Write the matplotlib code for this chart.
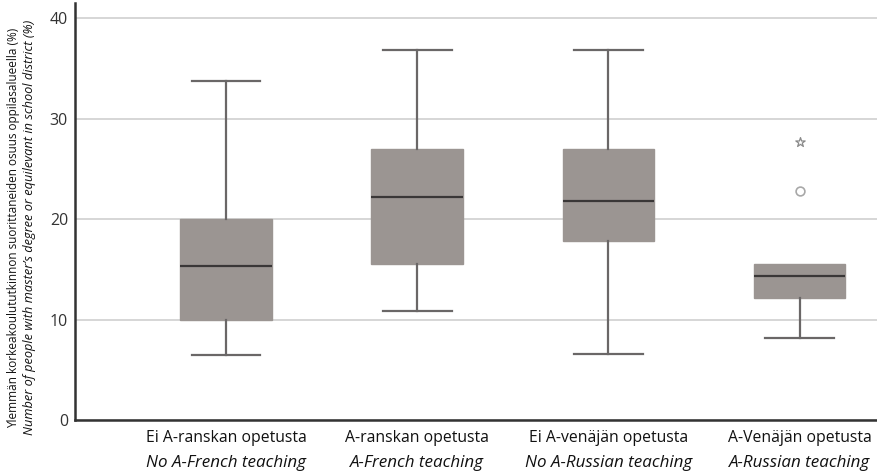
import matplotlib
matplotlib.use("Agg")
import matplotlib.pyplot as plt
from matplotlib.transforms import blended_transform_factory

categories_fi = ["Ei A-ranskan opetusta", "A-ranskan opetusta", "Ei A-venäjän opetusta", "A-Venäjän opetusta"]
categories_en = ["No A-French teaching", "A-French teaching", "No A-Russian teaching", "A-Russian teaching"]
whislo = [6.5, 10.8, 6.6, 8.2]
q1 = [10.0, 15.5, 17.8, 12.1]
med = [15.3, 22.2, 21.8, 14.3]
q3 = [20.0, 27.0, 27.0, 15.5]
whishi = [33.7, 36.8, 36.8, 15.5]
outlier_circle = [None, None, None, 22.8]
outlier_star = [None, None, None, 27.7]
yticks = [0, 10, 20, 30, 40]

plt.rcParams['font.family'] = ['Open Sans', 'DejaVu Sans']

fig = plt.figure(figsize=(8.78, 4.76), dpi=100)
ax = fig.add_axes([75/878, 1-420/476, 1-75/878, 417/476])

stats = []
for i in range(len(categories_fi)):
    stats.append(dict(med=med[i], q1=q1[i], q3=q3[i], whislo=whislo[i], whishi=whishi[i], fliers=[]))

pos = list(range(len(stats)))
art = ax.bxp(stats, positions=pos, widths=0.48, patch_artist=True, showfliers=False,
             boxprops=dict(facecolor='#9b9592', edgecolor='#9b9592', linewidth=1),
             medianprops=dict(color='#3a3737', linewidth=1.6),
             whiskerprops=dict(color='#6a6767', linewidth=1.6),
             capprops=dict(color='#6a6767', linewidth=1.6),
             capwidths=0.36, zorder=3)

for i in pos:
    if whishi[i] <= q3[i]:
        art['caps'][2 * i + 1].set_visible(False)
        art['whiskers'][2 * i + 1].set_visible(False)

for i in pos:
    if outlier_circle[i] is not None:
        ax.scatter([i], [outlier_circle[i]], marker='o', s=40, facecolor='white', edgecolor='#a8a8a8', linewidth=1.2, zorder=4)
    if outlier_star[i] is not None:
        ax.scatter([i], [outlier_star[i]], marker='*', s=50, facecolor='white', edgecolor='#8a8a8a', linewidth=0.9, zorder=4)

ax.set_xlim(-0.79, 3.41)
ax.set_ylim(0, 41.5)
ax.set_yticks(yticks)
ax.set_yticklabels([str(t) for t in yticks])
ax.yaxis.grid(True, color='#cfcfcf', linewidth=1.2, zorder=0)
ax.set_axisbelow(True)
ax.tick_params(axis='y', length=0, pad=5, labelsize=11.5, labelcolor='#333333')
ax.set_xticks([])
for s in ['top', 'right']:
    ax.spines[s].set_visible(False)
for s in ['left', 'bottom']:
    ax.spines[s].set_color('#333333')
    ax.spines[s].set_linewidth(1.8)

renderer = fig.canvas.get_renderer()

def fit(t, target, horizontal=True):
    bb = t.get_window_extent(renderer=renderer)
    size = bb.width if horizontal else bb.height
    t.set_fontsize(t.get_fontsize() * target / size)

tr = blended_transform_factory(ax.transData, fig.transFigure)
fi_texts, en_texts = [], []
for i in pos:
    fi_texts.append(ax.text(i, 1-438/476, categories_fi[i], transform=tr, ha='center', va='center', fontsize=11, color='#111111'))
    en_texts.append(ax.text(i, 1-463/476, categories_en[i], transform=tr, ha='center', va='center', fontsize=11, style='italic', color='#111111'))
fit(fi_texts[0], 161)
fit(en_texts[0], 159)
for t in fi_texts[1:]:
    t.set_fontsize(fi_texts[0].get_fontsize())
for t in en_texts[1:]:
    t.set_fontsize(en_texts[0].get_fontsize())

yl1 = fig.text(14/878, 1-228/476, "Ylemmän korkeakoulututkinnon suorittaneiden osuus oppilasalueella (%)",
               rotation=90, ha='center', va='center', fontsize=9.5, color='#111111')
yl2 = fig.text(30/878, 1-227/476, "Number of people with master’s degree or equilevant in school district (%)",
               rotation=90, ha='center', va='center', fontsize=9.5, style='italic', color='#111111')
fit(yl1, 406, horizontal=False)
fit(yl2, 418, horizontal=False)

fig.savefig("out.png", dpi=100)
